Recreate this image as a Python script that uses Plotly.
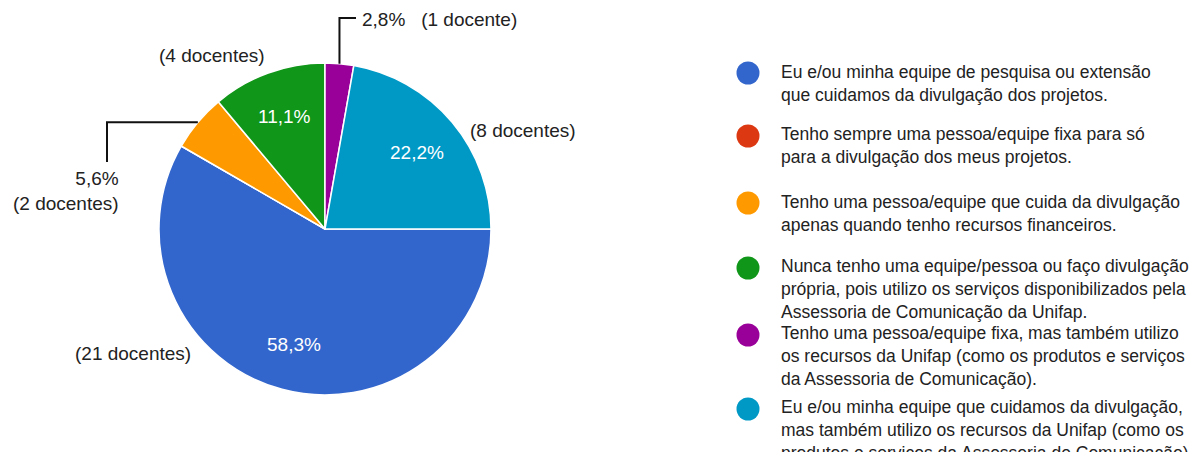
import math
import plotly.graph_objects as go

# Survey answers (legend order) and number of docentes per answer
labels = [
    "Eu e/ou minha equipe de pesquisa ou extensão<br>que cuidamos da divulgação dos projetos.",
    "Tenho sempre uma pessoa/equipe fixa para só<br>para a divulgação dos meus projetos.",
    "Tenho uma pessoa/equipe que cuida da divulgação<br>apenas quando tenho recursos financeiros.",
    "Nunca tenho uma equipe/pessoa ou faço divulgação<br>própria, pois utilizo os serviços disponibilizados pela<br>Assessoria de Comunicação da Unifap.",
    "Tenho uma pessoa/equipe fixa, mas também utilizo<br>os recursos da Unifap (como os produtos e serviços<br>da Assessoria de Comunicação).",
    "Eu e/ou minha equipe que cuidamos da divulgação,<br>mas também utilizo os recursos da Unifap (como os<br>produtos e serviços da Assessoria de Comunicação).",
]
counts = [21, 0, 2, 4, 1, 8]
colors = ["#3366cc", "#dc3912", "#ff9900", "#109618", "#990099", "#0099c6"]

W, H = 1195, 452
CX, CY, R = 325, 229, 166          # pie centre and radius in pixels
START = 90                          # first slice starts at 3 o'clock
FONT = "Liberation Sans, Arial, sans-serif"
TXT = "#222222"

total = sum(counts)
pct = [100 * c / total for c in counts]


def fmt_pct(p):
    return f"{p:.1f}".replace(".", ",") + "%"


def px(x, y):
    return x / W, 1 - y / H


fig = go.Figure()
fig.add_trace(go.Pie(
    values=counts,
    labels=[l.replace("<br>", " ") for l in labels],
    marker=dict(colors=colors, line=dict(color="white", width=1.5)),
    sort=False,
    direction="clockwise",
    rotation=START,
    textinfo="none",
    hoverinfo="label+value+percent",
    showlegend=False,
    domain=dict(x=[(CX - R) / W, (CX + R) / W], y=[(H - CY - R) / H, (H - CY + R) / H]),
))

# Slice angles (degrees clockwise from 12 o'clock)
mids = []
acc = 0
for c in counts:
    a0 = START + 360 * acc / total
    a1 = START + 360 * (acc + c) / total
    mids.append((a0 + a1) / 2)
    acc += c


def polar(angle, r):
    t = math.radians(angle)
    return CX + r * math.sin(t), CY - r * math.cos(t)


annotations = []
shapes = []


def note(x, y, text, size=19, color=TXT, xanchor="center", align="center"):
    xp, yp = px(x, y)
    annotations.append(dict(x=xp, y=yp, text=text, showarrow=False,
                            xref="paper", yref="paper",
                            xanchor=xanchor, yanchor="middle", align=align,
                            font=dict(family=FONT, size=size, color=color)))


# Percentages inside the larger slices
for p, m in zip(pct, mids):
    if p >= 10:
        x, y = polar(m, 0.72 * R)
        note(x, y, fmt_pct(p), color="white")


def docentes(n):
    return f"({n} docente{'s' if n != 1 else ''})"


# Counts outside the larger slices
outside = {0: (193, 353, "right"), 3: (212, 55, "center"), 5: (468, 130, "left")}
for i, (x, y, anchor) in outside.items():
    note(x, y, docentes(counts[i]), xanchor=anchor)


def leader(points):
    pts = [px(x, y) for x, y in points]
    path = "M " + " L ".join(f"{a},{b}" for a, b in pts)
    shapes.append(dict(type="path", path=path, xref="paper", yref="paper",
                       line=dict(color="#111111", width=2)))


# purple slice (index 4): line goes up, then right
ex, ey = polar(mids[4], R)
leader([(ex, ey), (ex, 18), (356, 18)])
note(360, 19, fmt_pct(pct[4]) + "   " + docentes(counts[4]), xanchor="left", align="left")

# orange slice (index 2): line goes left, then down
ex, ey = polar(mids[2], R)
leader([(ex, ey), (107, ey), (107, 162)])
note(121, 191, fmt_pct(pct[2]) + "<br>" + docentes(counts[2]), xanchor="right", align="right")

# Legend: coloured dot + wrapped answer text
legend_first_line = [72, 135, 202, 267, 334, 408]
LINE = 22
for lab, col, y0 in zip(labels, colors, legend_first_line):
    n = lab.count("<br>") + 1
    cx, cy = 748, y0 + 1
    x0p, y0p = px(cx - 11.5, cy - 11.5)
    x1p, y1p = px(cx + 11.5, cy + 11.5)
    shapes.append(dict(type="circle", xref="paper", yref="paper",
                       x0=x0p, x1=x1p, y0=y1p, y1=y0p,
                       fillcolor=col, line=dict(color=col, width=0)))
    note(779, y0 + (n - 1) * LINE / 2, lab, size=17.5, xanchor="left", align="left")

fig.update_layout(
    width=W, height=H,
    margin=dict(l=0, r=0, t=0, b=0),
    paper_bgcolor="white",
    plot_bgcolor="white",
    annotations=annotations,
    shapes=shapes,
)

fig.write_html("out.html")
